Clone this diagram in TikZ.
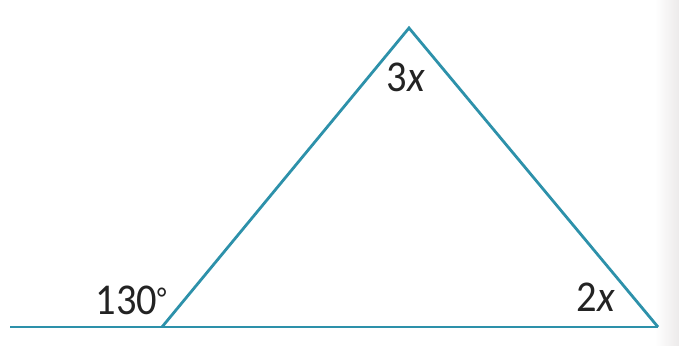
\documentclass[tikz,border=0pt]{standalone}
\usepackage{fontspec}
\setmainfont[FakeStretch=0.92]{Carlito}
\begin{document}
\begin{tikzpicture}[x=1pt,y=-1pt,
  edge/.style={draw={rgb,255:red,45;green,145;blue,170}, line width=2.8pt, line join=miter},
  lbl/.style={font=\fontsize{44}{44}\selectfont, text={rgb,255:red,35;green,35;blue,35}, inner sep=0pt}]
\useasboundingbox (0,0) rectangle (679,345);
\shade[left color=white, right color={rgb,255:red,236;green,234;blue,234}] (655,0) rectangle (679,345);
\coordinate (E) at (10,327);
\coordinate (A) at (162,327);
\coordinate (B) at (409,28);
\coordinate (C) at (658,327);
\draw[edge] (E) -- (A) -- (C);
\draw[edge] (A) -- (B) -- (C);
\node[lbl] (t130) at (131,300) {130\raisebox{0.12em}{\fontsize{30}{30}\selectfont °}};
\node[lbl] (t3x) at (406,77) {3\textit{x}};
\node[lbl] (t2x) at (596,297) {2\textit{x}};
\end{tikzpicture}
\end{document}
